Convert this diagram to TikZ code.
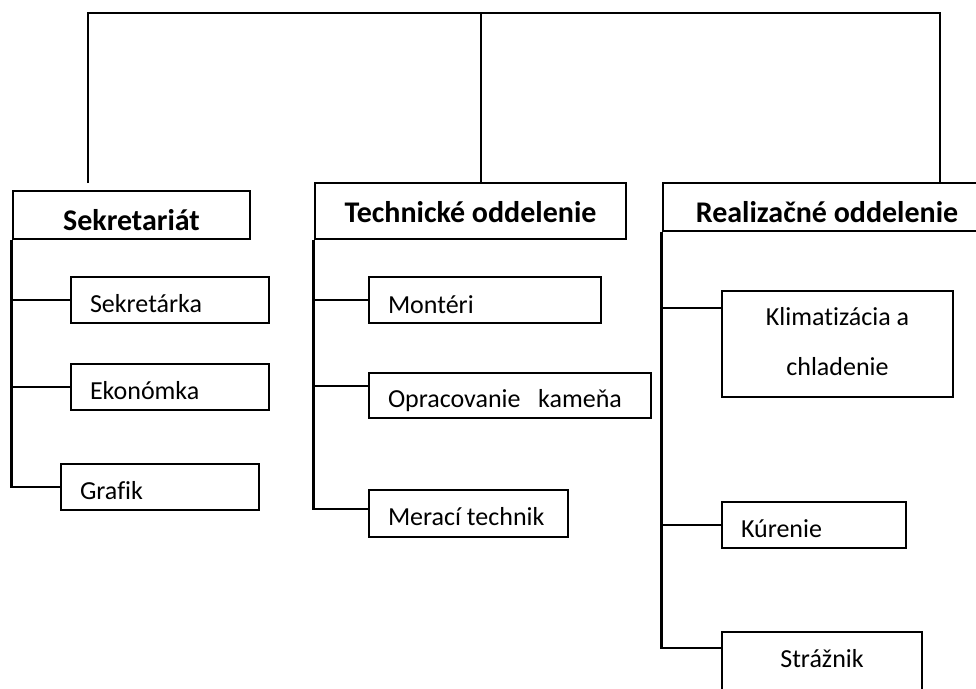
\documentclass[tikz,border=0pt]{standalone}
\usepackage{fontspec}
\setmainfont{Carlito}[Ligatures=NoCommon]
\begin{document}
\begin{tikzpicture}[x=1pt,y=-1pt,
  ln/.style={line width=2.6pt},
  box/.style={draw,line width=2.6pt,rectangle,inner xsep=19pt,inner ysep=0pt,
    font=\fontsize{26}{31}\selectfont,text depth=0pt,text height=24pt},
  lbox/.style={box,align=flush left},
  head/.style={draw,line width=2.6pt,rectangle,inner sep=0pt,
    font=\fontsize{30}{36}\bfseries\selectfont,text depth=0pt}]
\clip (0,0) rectangle (976,688);
\fill[white] (0,0) rectangle (976,688);
% heads
\node[head,minimum width=237pt,minimum height=48pt,text height=30pt] (sek) at (131.5,215) {Sekretariát};
\node[head,minimum width=311pt,minimum height=56pt,text height=22pt] (tech) at (470.5,211) {Technické oddelenie};
\node[head,minimum width=328pt,minimum height=48pt,text height=30pt] (rea) at (827,207) {Realizačné oddelenie};
% left column
\node[lbox,minimum height=46pt,text width=160pt] (sk) at (170,300) {Sekretárka};
\node[lbox,minimum height=46pt,text width=160pt] (ek) at (170,387) {Ekonómka};
\node[lbox,minimum height=46pt,text width=160pt] (gr) at (160,487) {Grafik};
% middle column
\node[lbox,minimum height=46pt,text width=194pt,text height=26pt] (mo) at (485,300) {Montéri};
\node[lbox,minimum height=45pt,text width=244pt,text height=23pt] (op) at (510,395.5) {Opracovanie\ \ \ kameňa};
\node[lbox,minimum height=47pt,text width=161pt,text height=23pt] (me) at (468.5,513.5) {Merací technik};
% right column
\node[box,align=flush center,minimum height=106pt,text width=193pt,text height=0pt,text depth=38pt,
  font=\fontsize{26}{50}\selectfont] (kl) at (837.5,344) {Klimatizácia a\\chladenie};
\node[lbox,minimum height=46pt,text width=146pt] (ku) at (814,525) {Kúrenie};
\node[box,minimum height=60pt,minimum width=200pt,text height=10pt] (st) at (822,662) {Strážnik};
% top bus
\coordinate (b1) at (88,13);
\coordinate (b2) at (481,13);
\coordinate (b3) at (940,13);
\coordinate (g1) at (88,183);
\draw[ln] (g1) -- (b1) -- (b3) -- (b3 |- rea.north);
\draw[ln] (b2) -- (b2 |- tech.north);
% left spine
\draw[ln] (sek.south west) |- (gr.west);
\draw[ln] (sek.south west |- sk.west) -- (sk.west);
\draw[ln] (sek.south west |- ek.west) -- (ek.west);
% middle spine
\coordinate (m3) at (369,509);
\draw[ln] (tech.south west) |- (m3);
\draw[ln] (tech.south west |- mo.west) -- (mo.west);
\coordinate (m2) at (369,386);
\draw[ln] (tech.south west |- m2) -- (m2);
% right spine
\coordinate (r3) at (722,648);
\coordinate (r1) at (722,308);
\draw[ln] (rea.south west) |- (r3);
\draw[ln] (rea.south west |- r1) -- (r1);
\draw[ln] (rea.south west |- ku.west) -- (ku.west);
\end{tikzpicture}
\end{document}
